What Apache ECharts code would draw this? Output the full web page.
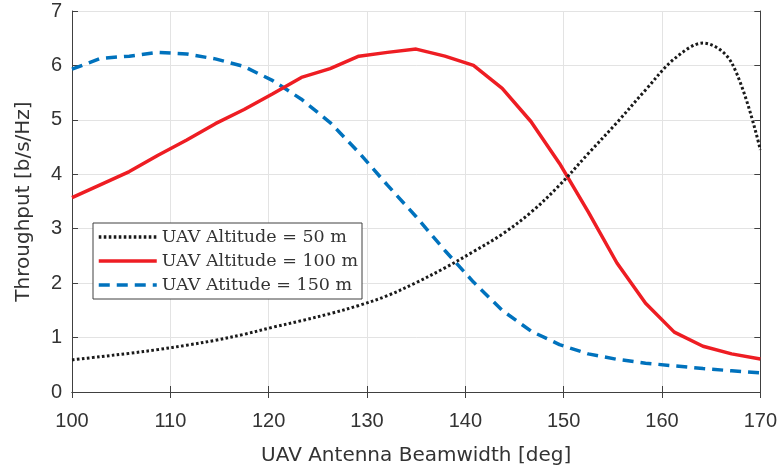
<!DOCTYPE html>
<html><head><meta charset="utf-8">
<script src="https://cdn.jsdelivr.net/npm/echarts@6/dist/echarts.min.js"></script>
<style>html,body{margin:0;padding:0;background:#fff}#c{width:780px;height:473px}</style>
</head><body><div id="c"></div>
<script>
const beamwidth = [100, 102.92, 105.83, 108.75, 111.67, 114.58, 117.5, 120.42, 123.33, 126.25, 129.17, 132.08, 135, 137.92, 140.83, 143.75, 146.67, 149.58, 152.5, 155.42, 158.33, 161.25, 164.17, 167.08, 170];
const alt50  = [0.59, 0.65, 0.71, 0.78, 0.86, 0.95, 1.06, 1.19, 1.31, 1.44, 1.59, 1.77, 2.01, 2.28, 2.58, 2.90, 3.30, 3.80, 4.38, 4.95, 5.55, 6.12, 6.41, 6.05, 4.45];
const alt100 = [3.57, 3.81, 4.05, 4.35, 4.63, 4.93, 5.19, 5.48, 5.78, 5.94, 6.17, 6.24, 6.30, 6.17, 6.00, 5.58, 4.97, 4.20, 3.31, 2.37, 1.63, 1.10, 0.84, 0.70, 0.605];
const alt150 = [5.93, 6.13, 6.17, 6.24, 6.21, 6.12, 5.98, 5.72, 5.38, 4.95, 4.40, 3.80, 3.22, 2.60, 2.02, 1.50, 1.12, 0.87, 0.70, 0.60, 0.53, 0.48, 0.43, 0.39, 0.35];
const seriesNames = ['UAV Altitude = 50 m', 'UAV Altitude = 100 m', 'UAV Atitude = 150 m'];
const xTicks = [100, 110, 120, 130, 140, 150, 160, 170];
const yTicks = [0, 1, 2, 3, 4, 5, 6, 7];

const pair = arr => beamwidth.map((x, i) => [x, arr[i]]);
const axisCol = '#404040';
const txtCol = '#333333';
const font = 'Liberation Sans, Arial, sans-serif';
const nameFont = 'DejaVu Sans, sans-serif';

const chart = echarts.init(document.getElementById('c'), null, {renderer: 'canvas'});
const baseX = {
  type: 'value', min: 100, max: 170, interval: 10,
  axisLine: {show: true, lineStyle: {color: axisCol, width: 1}},
  axisTick: {show: true, inside: true, length: 6, lineStyle: {color: axisCol}},
  splitLine: {show: false}
};
const baseY = {
  type: 'value', min: 0, max: 7, interval: 1,
  axisLine: {show: true, lineStyle: {color: axisCol, width: 1}},
  axisTick: {show: true, inside: true, length: 6, lineStyle: {color: axisCol}},
  splitLine: {show: false}
};
chart.setOption({
  animation: false,
  backgroundColor: '#fff',
  grid: {left: 72, right: 17, top: 11, bottom: 81},
  xAxis: [
    Object.assign({}, baseX, {
      position: 'bottom',
      splitLine: {show: true, lineStyle: {color: '#e3e3e3', width: 1}},
      axisLabel: {color: txtCol, fontSize: 20, fontFamily: font, margin: 19,
        formatter: v => xTicks.includes(v) ? String(v) : ''},
      name: 'UAV Antenna Beamwidth [deg]', nameLocation: 'middle', nameGap: 54,
      nameTextStyle: {color: txtCol, fontSize: 20, fontFamily: nameFont}
    }),
    Object.assign({}, baseX, {position: 'top', axisLabel: {show: false}})
  ],
  yAxis: [
    Object.assign({}, baseY, {
      position: 'left',
      splitLine: {show: true, lineStyle: {color: '#e3e3e3', width: 1}},
      axisLabel: {color: txtCol, fontSize: 20, fontFamily: font, margin: 10,
        formatter: v => yTicks.includes(v) ? String(v) : ''},
      name: 'Throughput [b/s/Hz]', nameLocation: 'middle', nameGap: 38,
      nameTextStyle: {color: txtCol, fontSize: 20, fontFamily: nameFont}
    }),
    Object.assign({}, baseY, {position: 'right', axisLabel: {show: false}})
  ],
  legend: {
    orient: 'vertical', left: 93, top: 223,
    padding: [4, 4, 4, 4], itemGap: 4,
    itemWidth: 58, itemHeight: 14,
    backgroundColor: '#fff', borderColor: '#404040', borderWidth: 1,
    itemStyle: {color: 'rgba(0,0,0,0)', borderWidth: 0, opacity: 0},
    lineStyle: {width: 3.5},
    textStyle: {fontFamily: 'DejaVu Serif, serif', fontSize: 17.5, color: txtCol, lineHeight: 20},
    data: seriesNames
  },
  series: [
    {name: seriesNames[0], type: 'line', data: pair(alt50), symbol: 'none', smooth: 0.35,
      lineStyle: {color: '#1a1a1a', width: 3, type: [2.6, 2.4]}, itemStyle: {color: '#1a1a1a'}, z: 4},
    {name: seriesNames[1], type: 'line', data: pair(alt100), symbol: 'none',
      lineStyle: {color: '#ee1d23', width: 3.5, type: 'solid'}, itemStyle: {color: '#ee1d23'}, z: 3},
    {name: seriesNames[2], type: 'line', data: pair(alt150), symbol: 'none',
      lineStyle: {color: '#0072bd', width: 3.5, type: [11, 7]}, itemStyle: {color: '#0072bd'}, z: 2}
  ]
});
</script></body></html>
